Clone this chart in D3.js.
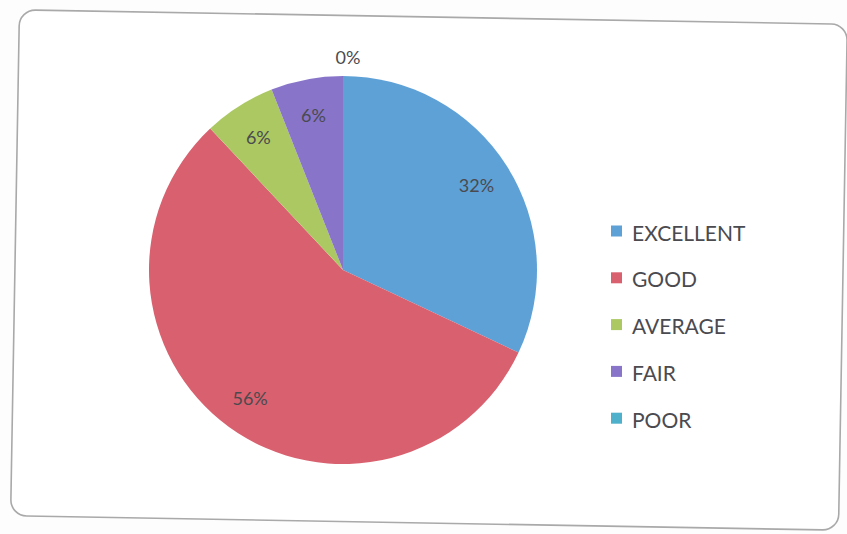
<!DOCTYPE html>
<html>
<head>
<meta charset="utf-8">
<script src="https://cdn.jsdelivr.net/npm/d3@7"></script>
<style>
  html, body { margin: 0; padding: 0; background: #fdfdfd; }
  svg { display: block; }
</style>
</head>
<body>
<svg id="chart" width="847" height="534"></svg>
<script>
// ---- data ----
const categories = ["EXCELLENT", "GOOD", "AVERAGE", "FAIR", "POOR"];
const values = [32, 56, 6, 6, 0];
const labels = ["32%", "56%", "6%", "6%", "0%"];
const colors = ["#5ea1d7", "#d9606e", "#abc862", "#8875c9", "#4fb0cc"];

// ---- drawing ----
const svg = d3.select("#chart");
const FONT = "Lato, 'Open Sans', sans-serif";

// frame (scanned page, slightly skewed)
svg.append("rect")
  .attr("x", 15).attr("y", 17).attr("width", 828).attr("height", 506)
  .attr("rx", 16).attr("ry", 16)
  .attr("fill", "#ffffff")
  .attr("stroke", "#a9a9a9").attr("stroke-width", 1.6)
  .attr("transform", "rotate(1 429 268)");

const cx = 343, cy = 270, R = 194;
const g = svg.append("g").attr("transform", `translate(${cx},${cy})`);

const data = categories.map((c, i) => ({ cat: c, value: values[i], label: labels[i], color: colors[i] }));

const pie = d3.pie().value(d => d.value).sort(null)
  .startAngle(0).endAngle(2 * Math.PI);
const arcs = pie(data);
const arc = d3.arc().innerRadius(0).outerRadius(R);

g.selectAll("path.slice").data(arcs).enter().append("path")
  .attr("class", "slice")
  .attr("d", arc)
  .attr("fill", d => d.data.color)
  .attr("stroke", "none");

// data labels: inside near the end; zero-size slice label sits outside
const insideR = 158, outsideR = 213;
g.selectAll("text.lbl").data(arcs).enter().append("text")
  .attr("class", "lbl")
  .attr("transform", d => {
    const a = (d.startAngle + d.endAngle) / 2;
    const p = d3.pointRadial(a, d.value > 0 ? insideR : outsideR);
    return `translate(${p[0] + (d.value > 0 ? 0 : 5)},${p[1]})`;
  })
  .attr("text-anchor", "middle")
  .attr("dominant-baseline", "central")
  .attr("font-family", FONT)
  .attr("font-size", 18)
  .attr("fill", "#4a4a4f")
  .text(d => d.data.label);

// legend
const legend = svg.append("g").attr("transform", "translate(611,231)");
const rowH = 46.8;
const items = legend.selectAll("g.item").data(data).enter().append("g")
  .attr("class", "item")
  .attr("transform", (d, i) => `translate(0,${i * rowH})`);
items.append("rect")
  .attr("x", 0).attr("y", -5.5).attr("width", 11).attr("height", 11)
  .attr("fill", d => d.color);
items.append("text")
  .attr("x", 21).attr("y", 1)
  .attr("dominant-baseline", "central")
  .attr("font-family", FONT)
  .attr("font-size", 21)
  .attr("fill", "#4a4a4f")
  .text(d => d.cat);
</script>
</body>
</html>
